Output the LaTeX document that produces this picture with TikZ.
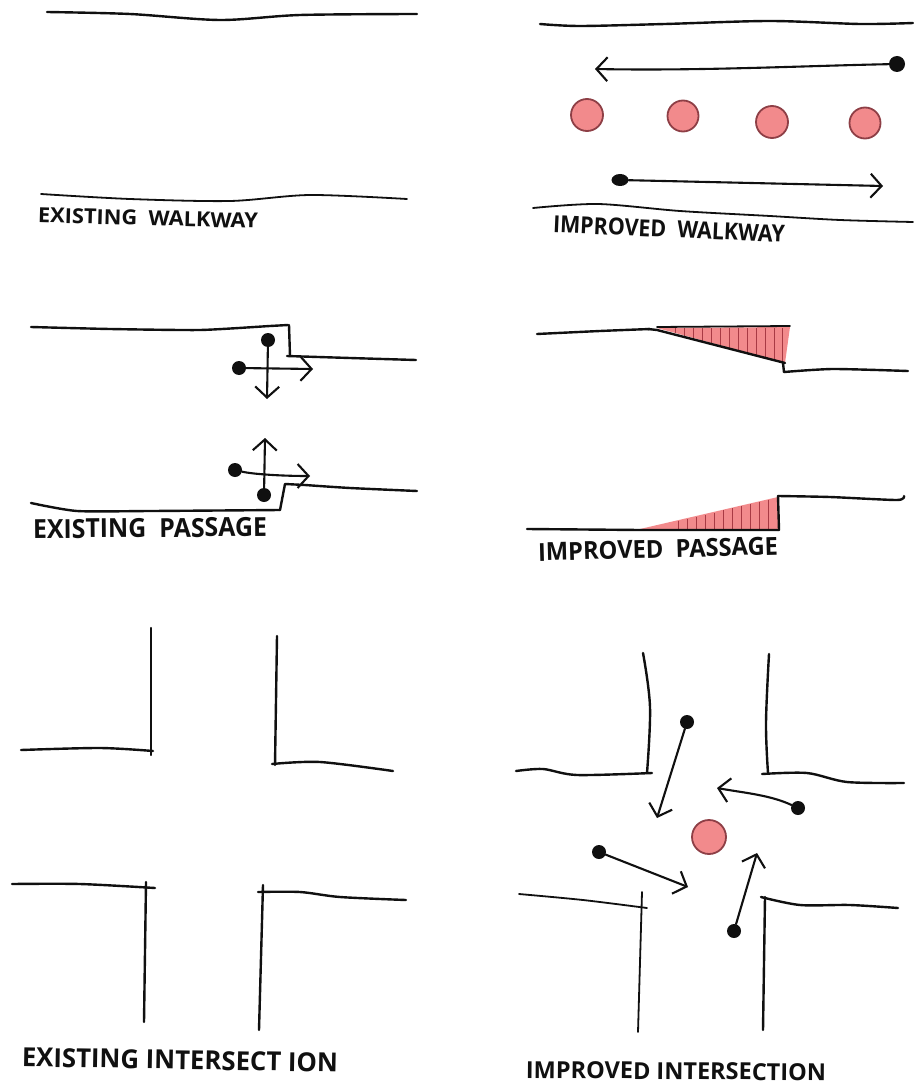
\documentclass[tikz,border=0pt]{standalone}
\usepackage{fontspec}
\usepackage{graphicx}
\setmainfont{Open Sans}
\usetikzlibrary{arrows.meta,shapes.geometric}
\definecolor{pinkfill}{HTML}{F28A8C}
\definecolor{pinkedge}{HTML}{8E3F46}
\definecolor{hatchred}{HTML}{A83A44}
\definecolor{inkblack}{HTML}{101010}
\tikzset{
  wall/.style={draw=inkblack,line width=2.4pt,line cap=round,line join=round},
  thinwall/.style={draw=inkblack,line width=1.8pt,line cap=round,line join=round},
  walk/.style={draw=inkblack,line width=2.1pt,line cap=round,-{Straight Barb[length=11pt,width=24pt,line width=2.1pt]}},
  dotnode/.style={circle,fill=inkblack,inner sep=0pt,minimum size=14pt},
  tree/.style={circle,fill=pinkfill,draw=pinkedge,line width=1.8pt,inner sep=0pt,minimum size=31pt},
  wedge/.style={fill=pinkfill,draw=none},
  hatch/.style={draw=hatchred,line width=1pt},
  caption/.style={inner sep=0pt,text=inkblack,font=\bfseries},
}
\begin{document}
\begin{tikzpicture}[x=1pt,y=-1pt]
\useasboundingbox (0,0) rectangle (913,1086);
\fill[white] (0,0) rectangle (913,1086);

% ---- existing walkway
\draw[wall] plot[smooth,tension=0.5] coordinates {(47,12) (130,14) (220,20) (300,15) (417,14)};
\draw[thinwall] plot[smooth,tension=0.5] coordinates {(41,194) (130,199) (230,201) (310,195) (407,199)};
\node[caption,rotate=-1.5] (capA) at (148,218) {\resizebox{220pt}{15pt}{EXISTING\ \ WALKWAY}};

% ---- improved walkway
\draw[wall] plot[smooth,tension=0.5] coordinates {(540,24) (580,26) (665,24) (770,21) (860,24) (913,23)};
\draw[thinwall] plot[smooth,tension=0.5] coordinates {(533,208) (598,204) (680,211) (770,216) (840,220) (913,222)};
\node[dotnode,minimum size=16pt] (w1) at (897,64) {};
\coordinate (w1t) at (595,69);
\draw[walk] (w1) .. controls (800,66) and (700,71) .. (w1t);
\node[tree,minimum size=32pt] (t1) at (587,115) {};
\node[tree] (t2) at (683,116) {};
\node[tree,minimum size=32pt] (t3) at (772,122) {};
\node[tree] (t4) at (865,123) {};
\node[ellipse,fill=inkblack,minimum width=17pt,minimum height=12pt,inner sep=0pt] (w2) at (620,180) {};
\coordinate (w2t) at (883,186);
\draw[walk] (w2) -- (w2t);
\node[caption,rotate=-2.5] (capB) at (669,229) {\resizebox{232pt}{17pt}{IMPROVED\ \ WALKWAY}};

% ---- existing passage
\draw[wall] plot[smooth,tension=0.35] coordinates {(31,327) (110,329) (200,330) (270,326) (288,325)};
\draw[wall] (289,325) -- (290,356);
\draw[wall] plot[smooth,tension=0.4] coordinates {(287,356) (350,358) (416,360)};
\node[dotnode] (p1) at (268,340) {};
\coordinate (p1t) at (267,399);
\draw[walk] (p1) -- (p1t);
\node[dotnode] (p2) at (239,368) {};
\coordinate (p2t) at (313,369);
\draw[walk] (p2) -- (p2t);
\draw[wall] plot[smooth,tension=0.4] coordinates {(31,503) (77,511) (150,511) (280,510)};
\draw[wall] (280,510) -- (285,484) -- (305,485);
\draw[wall] plot[smooth,tension=0.4] coordinates {(305,485) (350,488) (417,491)};
\node[dotnode] (p3) at (264,495) {};
\coordinate (p3t) at (265,438);
\draw[walk] (p3) -- (p3t);
\node[dotnode] (p4) at (235,470) {};
\coordinate (p4t) at (310,476);
\draw[walk] (p4) .. controls (252,474) and (280,476) .. (p4t);
\node[caption,rotate=0.5] (capC) at (150,528) {\resizebox{234pt}{19pt}{EXISTING\ \ PASSAGE}};

% ---- improved passage
\fill[wedge] (657,328) -- (790,327) -- (785,363) -- cycle;
\foreach \hx/\hy in {675/333,684/336,693/338,702/341,711/344,720/346,729/349,738/351,747/354,756/356,765/358,774/360,782/362}
  \draw[hatch] (\hx,328) -- (\hx,\hy);
\draw[wall] plot[smooth,tension=0.5] coordinates {(537,334) (600,331) (650,329)};
\draw[wall] (648,329) -- (657,330) -- (785,363);
\draw[thinwall] (657,327) -- (790,326);
\draw[wall] (783,363) -- (784,372);
\draw[wall] plot[smooth,tension=0.4] coordinates {(784,372) (833,369) (908,371)};
\fill[wedge] (640,529) -- (778,497) -- (778,531) -- cycle;
\foreach \hx/\hy in {678/521,687/519,696/517,705/515,714/513,723/510,732/508,741/506,750/504,759/502,768/500}
  \draw[hatch] (\hx,530) -- (\hx,\hy);
\draw[wall] (527,529) -- (640,530) -- (779,530);
\draw[wall] (779,530) -- (778,496);
\draw[wall] plot[smooth,tension=0.4] coordinates {(778,496) (830,497) (897,500) (904,496)};
\node[caption,rotate=1.5] (capD) at (658,549) {\resizebox{240pt}{18pt}{IMPROVED\ \ PASSAGE}};

% ---- existing intersection
\draw[wall] (151,628) -- (151,755);
\draw[wall] plot[smooth,tension=0.5] coordinates {(21,750) (100,748) (153,751)};
\draw[wall] (277,636) -- (275,765);
\draw[wall] plot[smooth,tension=0.5] coordinates {(272,764) (320,762) (393,771)};
\draw[wall] plot[smooth,tension=0.5] coordinates {(12,884) (80,884) (155,888)};
\draw[wall] (146,882) -- (144,1022);
\draw[wall] (263,885) -- (259,1030);
\draw[wall] plot[smooth,tension=0.5] coordinates {(258,892) (300,892) (340,897) (406,900)};
\node[caption,rotate=-1] (capE) at (180,1060) {\resizebox{316pt}{19pt}{EXISTING INTERSECT ION}};

% ---- improved intersection
\draw[wall] plot[smooth,tension=0.6] coordinates {(643,653) (650,707) (647,773)};
\draw[wall] plot[smooth,tension=0.5] coordinates {(516,771) (543,769) (577,775) (652,773)};
\draw[wall] plot[smooth,tension=0.6] coordinates {(769,654) (766,723) (768,773)};
\draw[wall] plot[smooth,tension=0.5] coordinates {(762,774) (807,773) (847,782) (904,783)};
\draw[thinwall] plot[smooth,tension=0.5] coordinates {(519,894) (583,900) (647,908)};
\draw[thinwall] (642,892) -- (638,1032);
\draw[wall] (765,897) -- (763,1030);
\draw[wall] plot[smooth,tension=0.5] coordinates {(761,897) (800,905) (850,905) (898,908)};
\node[tree,minimum size=34pt] (t5) at (709,837) {};
\node[dotnode] (i1) at (687,722) {};
\coordinate (i1t) at (657,818);
\draw[walk] (i1) -- (i1t);
\node[dotnode] (i2) at (798,808) {};
\coordinate (i2t) at (717,788);
\draw[walk] (i2) .. controls (770,795) and (745,793) .. (i2t);
\node[dotnode] (i3) at (599,852) {};
\coordinate (i3t) at (688,887);
\draw[walk] (i3) -- (i3t);
\node[dotnode] (i4) at (734,931) {};
\coordinate (i4t) at (757,853);
\draw[walk] (i4) -- (i4t);
\node[caption,rotate=-0.5] (capF) at (676,1071) {\resizebox{300pt}{17pt}{IMPROVED INTERSECTION}};
\end{tikzpicture}
\end{document}
